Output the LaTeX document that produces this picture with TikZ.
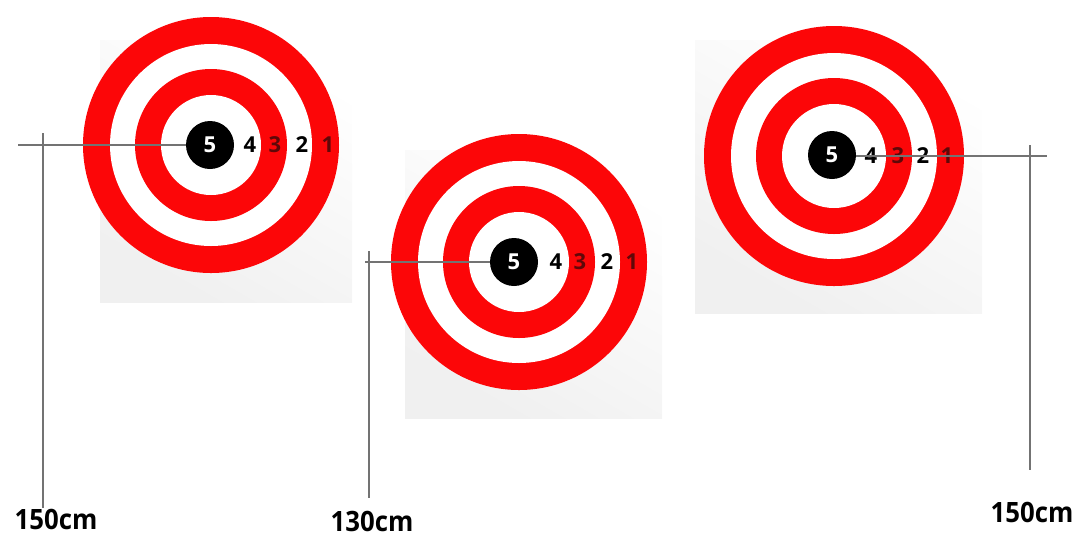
\documentclass[tikz,border=0pt]{standalone}
\usepackage{fontspec}
\setsansfont{Open Sans}
\usepackage{tikz}
\usetikzlibrary{positioning, calc}
\definecolor{ringred}{RGB}{252,6,8}
\definecolor{numred}{RGB}{95,8,8}
\definecolor{linegray}{RGB}{115,115,115}

\begin{document}
\begin{tikzpicture}[
    x=0.5pt, y=-0.5pt,
    bgsq/.style={top color=white, bottom color=black!6, shading angle=-30},
    ring/.style={fill=ringred},
    gap/.style={fill=white},
    bull/.style={circle, fill=black, minimum size=24pt, inner sep=0pt, text=white, font=\sffamily\bfseries\fontsize{11}{13}\selectfont},
    num/.style={inner sep=0pt, font=\sffamily\bfseries\fontsize{11}{13}\selectfont},
    post/.style={draw=linegray, line width=0.7pt},
    height/.style={inner sep=0pt, xscale=0.92, font=\sffamily\bfseries\fontsize{14}{16}\selectfont}
]
\useasboundingbox (0,0) rectangle (1081,537);

% target 1
\shade[bgsq] (100,40) rectangle (352,302);
\fill[ring] (211,145) circle[radius=128];
\fill[gap] (211,145) circle[radius=101];
\fill[ring] (211,145) circle[radius=76];
\fill[gap] (211,145) circle[radius=50];
\node[bull] (t1c) at (210,145) {5};
\node[num] (t1n4) at (250,145) {4};
\node[num, text=numred] (t1n3) at (275,145) {3};
\node[num] (t1n2) at (302,145) {2};
\node[num, text=numred] (t1n1) at (328,145) {1};

% target 2
\shade[bgsq] (405,150) rectangle (662,418);
\fill[ring] (519,262) circle[radius=128];
\fill[gap] (519,262) circle[radius=101];
\fill[ring] (519,262) circle[radius=76];
\fill[gap] (519,262) circle[radius=50];
\node[bull] (t2c) at (514,262) {5};
\node[num] (t2n4) at (556,262) {4};
\node[num, text=numred] (t2n3) at (580,262) {3};
\node[num] (t2n2) at (607,262) {2};
\node[num, text=numred] (t2n1) at (632,262) {1};

% target 3
\shade[bgsq] (695,40) rectangle (982,313);
\fill[ring] (834,156) circle[radius=130];
\fill[gap] (834,156) circle[radius=103];
\fill[ring] (834,156) circle[radius=78];
\fill[gap] (834,156) circle[radius=52];
\node[bull] (t3c) at (832,155) {5};
\node[num] (t3n4) at (871,156) {4};
\node[num, text=numred] (t3n3) at (898,156) {3};
\node[num] (t3n2) at (923,156) {2};
\node[num, text=numred] (t3n1) at (947,156) {1};

% heights
\node[height] (h1) at (56,519) {150cm};
\node[height] (h2) at (372,521) {130cm};
\node[height] (h3) at (1032,512) {150cm};

\coordinate (t1h) at (18,145);
\coordinate (t1v) at (43,133);
\coordinate (t2h) at (365,262);
\coordinate (t2v) at (369,251);
\coordinate (t2e) at (369,498);
\coordinate (t3h) at (1047,156);
\coordinate (t3v) at (1030,145);
\coordinate (t3e) at (1030,470);

\draw[post] (t1h) -- (t1h -| t1c.west);
\draw[post] (t1v) -- (t1v |- h1.north);
\draw[post] (t2h) -- (t2h -| t2c.west);
\draw[post] (t2v) -- (t2e);
\draw[post] (t3c.east |- t3h) -- (t3h);
\draw[post] (t3v) -- (t3e);
\end{tikzpicture}
\end{document}
